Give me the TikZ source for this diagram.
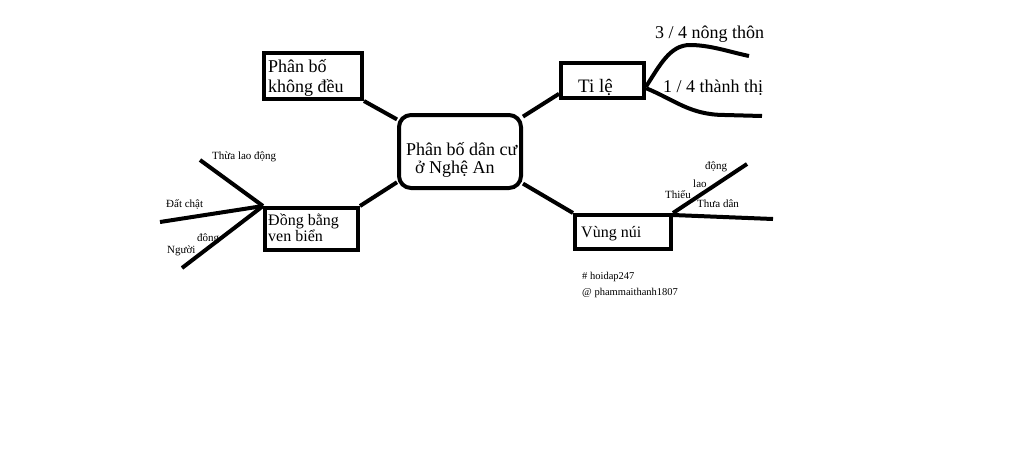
\documentclass[tikz,border=0pt]{standalone}
\usepackage{fontspec}
\setmainfont{Liberation Serif}
\begin{document}
\begin{tikzpicture}[x=1pt,y=-1pt,
  box/.style={draw=black, line width=4pt, inner sep=0pt, fill=white},
  conn/.style={draw=black, line width=4pt},
  txt/.style={inner sep=0pt, anchor=base west},
  big/.style={font=\fontsize{18}{21}\selectfont},
  mid/.style={font=\fontsize{16}{19}\selectfont},
  small/.style={font=\fontsize{11}{13}\selectfont},
  tiny/.style={font=\fontsize{10.5}{12}\selectfont}]
\useasboundingbox[fill=white] (0,0) rectangle (1024,456);

% boxes
\node[box, minimum width=98pt, minimum height=46pt] (khong) at (313,76) {};
\node[box, rounded corners=12pt, minimum width=122pt, minimum height=73pt] (center) at (460,151.5) {};
\node[box, minimum width=83pt, minimum height=35pt] (tile) at (602.5,80.5) {};
\node[box, minimum width=93pt, minimum height=42pt] (dong) at (311.5,229) {};
\node[box, minimum width=96pt, minimum height=34pt] (vung) at (623,232) {};

% texts in boxes
\node[txt, big] (khong1) at (268,72) {Phân bố};
\node[txt, big] (khong2) at (268,92) {không đều};
\node[txt, big] (center1) at (406,155) {Phân bố dân cư};
\node[txt, big] (center2) at (415,173) {ở Nghệ An};
\node[txt, font=\fontsize{19}{21}\selectfont] (tiletxt) at (578,92) {Ti lệ};
\node[txt, mid] (dong1) at (268,225) {Đồng bằng};
\node[txt, mid] (dong2) at (268,241) {ven biển};
\node[txt, mid] (vungtxt) at (581,237) {Vùng núi};

% connectors between boxes
\draw[conn] (khong.south east) -- (center.153);
\draw[conn] (center.29) -- (tile.197);
\draw[conn] (center.206) -- (dong.north east);
\draw[conn] (center.333) -- (vung.north west);

% ratio branches
\coordinate (nt) at (749,56);
\coordinate (tt) at (762,116);
\draw[conn] (tile.352) .. controls (660,65) and (670,45) .. (690,45)
  .. controls (710,45) and (730,52) .. (nt);
\draw[conn] (tile.350) .. controls (675,100) and (690,115) .. (725,115) -- (tt);
\node[txt, big] (nttxt) at (655,38) {3 / 4 nông thôn};
\node[txt, big] (tttxt) at (663,92) {1 / 4 thành thị};

% plains branches
\coordinate (d1) at (200,160);
\coordinate (d2) at (160,222);
\coordinate (d3) at (182,268);
\draw[conn] (dong.north west) -- (d1);
\draw[conn] (dong.north west) -- (d2);
\draw[conn] (dong.north west) -- (d3);
\node[txt, small] (l1) at (212,159) {Thừa lao động};
\node[txt, small] (l2) at (166,207) {Đất chật};
\node[txt, small] (l3) at (197,241) {đông};
\node[txt, small] (l4) at (167,253) {Người};

% mountain branches
\coordinate (v1) at (747,164);
\coordinate (v2) at (773,219);
\draw[conn] (vung.north east) -- (v1);
\draw[conn] ([yshift=-2pt]vung.north east) -- (v2);
\node[txt, small] (m1) at (705,169) {động};
\node[txt, small] (m2) at (693,187) {lao};
\node[txt, small] (m3) at (665,198) {Thiếu};
\node[txt, small] (m4) at (697,207) {Thưa dân};

% watermark
\node[txt, tiny] (w1) at (582,279) {\# hoidap247};
\node[txt, tiny] (w2) at (582,295) {@ phammaithanh1807};
\end{tikzpicture}
\end{document}
